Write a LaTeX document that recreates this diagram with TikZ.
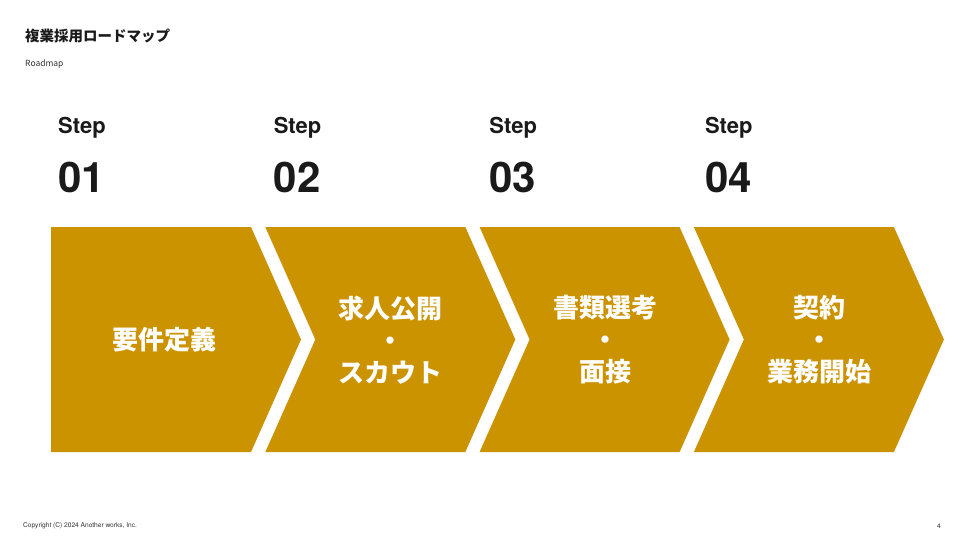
\documentclass[tikz,border=0pt]{standalone}
\usepackage{fontspec}
\usepackage{xcolor}
\usepackage{tikz}
\usetikzlibrary{positioning}
\newfontfamily\jpfont{Noto Sans CJK JP}
\newfontfamily\hvfont{TeX Gyre Heros}
\definecolor{gold}{HTML}{CC9300}
\definecolor{ink}{HTML}{1A1A1A}
\definecolor{greytxt}{HTML}{333333}
\tikzset{
  chev/.style={fill=gold, draw=none},
  pagetitle/.style={anchor=west, inner sep=0pt, text=ink,
                    font=\jpfont\bfseries\fontsize{14.5}{16}\selectfont},
  subtitle/.style={anchor=west, inner sep=0pt, text=greytxt,
                   font=\jpfont\fontsize{8.5}{10}\selectfont},
  footer/.style={anchor=west, inner sep=0pt, text=greytxt,
                 font=\hvfont\fontsize{6.6}{8}\selectfont},
  steplbl/.style={anchor=base west, inner sep=0pt, text=ink,
                  font=\hvfont\bfseries\fontsize{22}{24}\selectfont},
  stepnum/.style={anchor=base west, inner sep=0pt, text=ink,
                  font=\hvfont\bfseries\fontsize{42}{44}\selectfont},
  task/.style={align=center, inner sep=0pt, text=white,
               font=\jpfont\bfseries\fontsize{26}{32}\selectfont},
}

\begin{document}
\begin{tikzpicture}[x=1pt,y=-1pt]
  \fill[white] (0,0) rectangle (960,540);
  \useasboundingbox (0,0) rectangle (960,540);

  % header
  \node[pagetitle] (title) at (25,36) {複業採用ロードマップ};
  \node[subtitle] (sub) at (25,64) {Roadmap};

  % steps
  \foreach \i/\cx/\txt in {0/164.5/{要件定義},
                           1/390.5/{求人公開\\・\\スカウト},
                           2/605.5/{書類選考\\・\\面接},
                           3/819/{契約\\・\\業務開始}} {
    \pgfmathsetmacro\lx{51+214.3*\i}
    \pgfmathsetmacro\nd{ifthenelse(\i==0,0,50)}
    \pgfmathsetmacro\sx{58+215.6*\i}
    \pgfmathtruncatemacro\n{\i+1}
    \fill[chev] (\lx,227) -- ++(200,0) -- ++(50,112.5) -- ++(-50,112.5)
                -- ++(-200,0) -- ++(\nd,-112.5) -- cycle;
    \node[steplbl] (step\n) at (\sx,133.5) {Step};
    \node[stepnum] (num\n) at (\sx,193) {0\n};
    \node[task] (task\n) at (\cx,340) {\txt};
  }

  % footer
  \node[footer] (copy) at (23,526) {Copyright (C) 2024 Another works, Inc.};
  \node[footer] (page) at (937,526) {4};
\end{tikzpicture}
\end{document}
